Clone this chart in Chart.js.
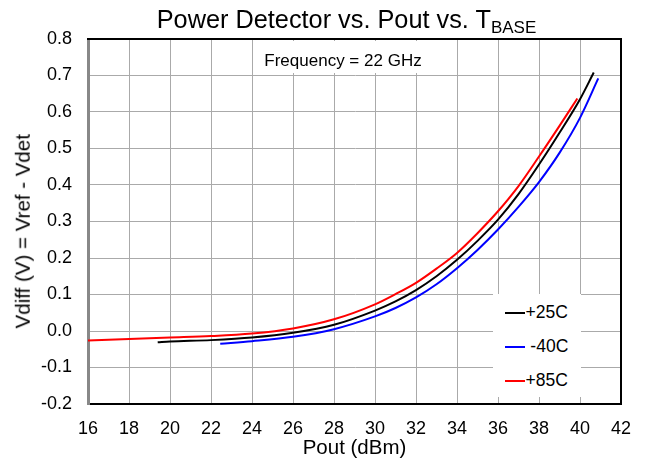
<!DOCTYPE html>
<html><head><meta charset="utf-8">
<script src="https://cdn.jsdelivr.net/npm/chart.js@4/dist/chart.umd.min.js"></script>
<style>
html,body{margin:0;padding:0;background:#fff;}
#wrap{position:relative;width:647px;height:465px;font-family:"Liberation Sans",Arial,Helvetica,sans-serif;color:#000;overflow:hidden;}
canvas{position:absolute;left:0;top:0;}
.t{position:absolute;white-space:pre;line-height:1;}
</style></head><body>
<div id="wrap">
<canvas id="c" width="647" height="465"></canvas>
<div class="t" id="title" style="left:46.5px;top:6.6px;width:600px;text-align:center;font-size:25.3px;"></div>
<div style="position:absolute;left:255px;top:41px;width:178px;height:32px;background:#fff;"></div>
<div class="t" id="note" style="left:243px;top:52.3px;width:200px;text-align:center;font-size:17px;"></div>
<div class="t" id="ytitle" style="left:-127.1px;top:220.75px;width:300px;height:20.5px;text-align:center;font-size:20.5px;transform:rotate(-90deg);"></div>
<div class="t" id="xtitle" style="left:254.5px;top:436.6px;width:200px;text-align:center;font-size:20.5px;"></div>
<div id="legend" style="position:absolute;left:493px;top:294px;width:88px;height:103px;background:#fff;"></div>
</div>
<script>
// ---- data ----
const chartTitle = "Power Detector vs. Pout vs. T";
const chartTitleSub = "BASE";
const noteText = "Frequency = 22 GHz";
const xTitle = "Pout (dBm)";
const yTitle = "Vdiff (V) = Vref - Vdet";

const xTicks = [16, 18, 20, 22, 24, 26, 28, 30, 32, 34, 36, 38, 40, 42];
const yTicks = [-0.2, -0.1, 0.0, 0.1, 0.2, 0.3, 0.4, 0.5, 0.6, 0.7, 0.8];

const seriesNames = ["+25C", " -40C", "+85C"];
const seriesColors = ["#000000", "#0000ff", "#ff0000"];

const pout25 = [19.4, 20, 22, 24, 26, 28, 30, 31, 32, 33, 34, 35, 36, 37, 38, 39, 40, 40.67];
const vdiff25 = [-0.031, -0.029, -0.025, -0.018, -0.005, 0.017, 0.056, 0.081, 0.112, 0.150, 0.195, 0.247, 0.305, 0.375, 0.456, 0.543, 0.635, 0.708];

const poutM40 = [22.45, 24, 26, 28, 30, 31, 32, 33, 34, 35, 36, 37, 38, 39, 40, 40.89];
const vdiffM40 = [-0.035, -0.028, -0.016, 0.005, 0.040, 0.063, 0.092, 0.128, 0.172, 0.222, 0.278, 0.340, 0.408, 0.488, 0.584, 0.692];

const pout85 = [16, 18, 20, 22, 24, 26, 28, 30, 31, 32, 33, 34, 35, 36, 37, 38, 39, 39.87];
const vdiff85 = [-0.026, -0.022, -0.018, -0.014, -0.007, 0.007, 0.032, 0.073, 0.101, 0.132, 0.171, 0.214, 0.268, 0.328, 0.397, 0.478, 0.562, 0.637];

// ---- build chart ----
const pairs = (xs, ys) => xs.map((x, i) => ({x: x, y: ys[i]}));
const seriesData = [pairs(pout25, vdiff25), pairs(poutM40, vdiffM40), pairs(pout85, vdiff85)];

const datasets = seriesNames.map((n, i) => ({
  label: n,
  data: seriesData[i],
  borderColor: seriesColors[i],
  backgroundColor: seriesColors[i],
  borderWidth: 2,
  pointRadius: 0,
  fill: false,
  cubicInterpolationMode: 'monotone'
}));

const framePlugin = {
  id: 'frame',
  beforeDatasetsDraw(chart) {
    const {ctx, chartArea: a} = chart;
    ctx.save();
    ctx.strokeStyle = '#000';
    ctx.lineWidth = 2;
    ctx.beginPath();
    ctx.moveTo(a.left - 1, a.top);
    ctx.lineTo(a.right, a.top);
    ctx.lineTo(a.right, a.bottom);
    ctx.stroke();
    ctx.restore();
  }
};

const tickFont = {family: '"Liberation Sans", Arial, sans-serif', size: 18};

new Chart(document.getElementById('c'), {
  type: 'line',
  data: {datasets: datasets},
  options: {
    responsive: false,
    animation: false,
    devicePixelRatio: 1,
    layout: {padding: {top: 39, right: 26, left: 0, bottom: 0}},
    plugins: {legend: {display: false}, title: {display: false}, tooltip: {enabled: false}},
    scales: {
      x: {
        type: 'linear', min: 16, max: 42,
        afterBuildTicks: s => { s.ticks = xTicks.map(v => ({value: v})); },
        afterFit: s => { s.height = 61; },
        ticks: {font: tickFont, color: '#000', padding: 14, maxRotation: 0, autoSkip: false,
                callback: v => String(v)},
        grid: {color: '#aaaaaa', lineWidth: 1, drawTicks: false},
        border: {display: true, color: '#000', width: 2}
      },
      y: {
        type: 'linear', min: -0.2, max: 0.8,
        afterBuildTicks: s => { s.ticks = yTicks.map(v => ({value: v})); },
        afterFit: s => { s.width = 88; },
        ticks: {font: tickFont, color: '#000', padding: 16, autoSkip: false,
                callback: v => (Math.round(v * 10) / 10).toFixed(1)},
        grid: {color: '#aaaaaa', lineWidth: 1, drawTicks: false},
        border: {display: true, color: '#888888', width: 3}
      }
    }
  },
  plugins: [framePlugin]
});

// ---- text overlays ----
const titleEl = document.getElementById('title');
titleEl.textContent = chartTitle;
const sub = document.createElement('span');
sub.style.cssText = 'font-size:17px;position:relative;top:5px;';
sub.textContent = chartTitleSub;
titleEl.appendChild(sub);
document.getElementById('note').textContent = noteText;
document.getElementById('ytitle').textContent = yTitle;
document.getElementById('xtitle').textContent = xTitle;

const legend = document.getElementById('legend');
seriesNames.forEach((n, i) => {
  const line = document.createElement('div');
  line.style.cssText = 'position:absolute;left:12px;top:' + (17.7 + i * 34) + 'px;width:20px;height:2px;background:' + seriesColors[i] + ';';
  legend.appendChild(line);
  const txt = document.createElement('div');
  txt.className = 't';
  txt.style.cssText = 'left:32.5px;top:' + (24.5 - 0.8465 * 17.5 + i * 34) + 'px;font-size:17.5px;';
  txt.textContent = n;
  legend.appendChild(txt);
});
</script>
</body></html>
